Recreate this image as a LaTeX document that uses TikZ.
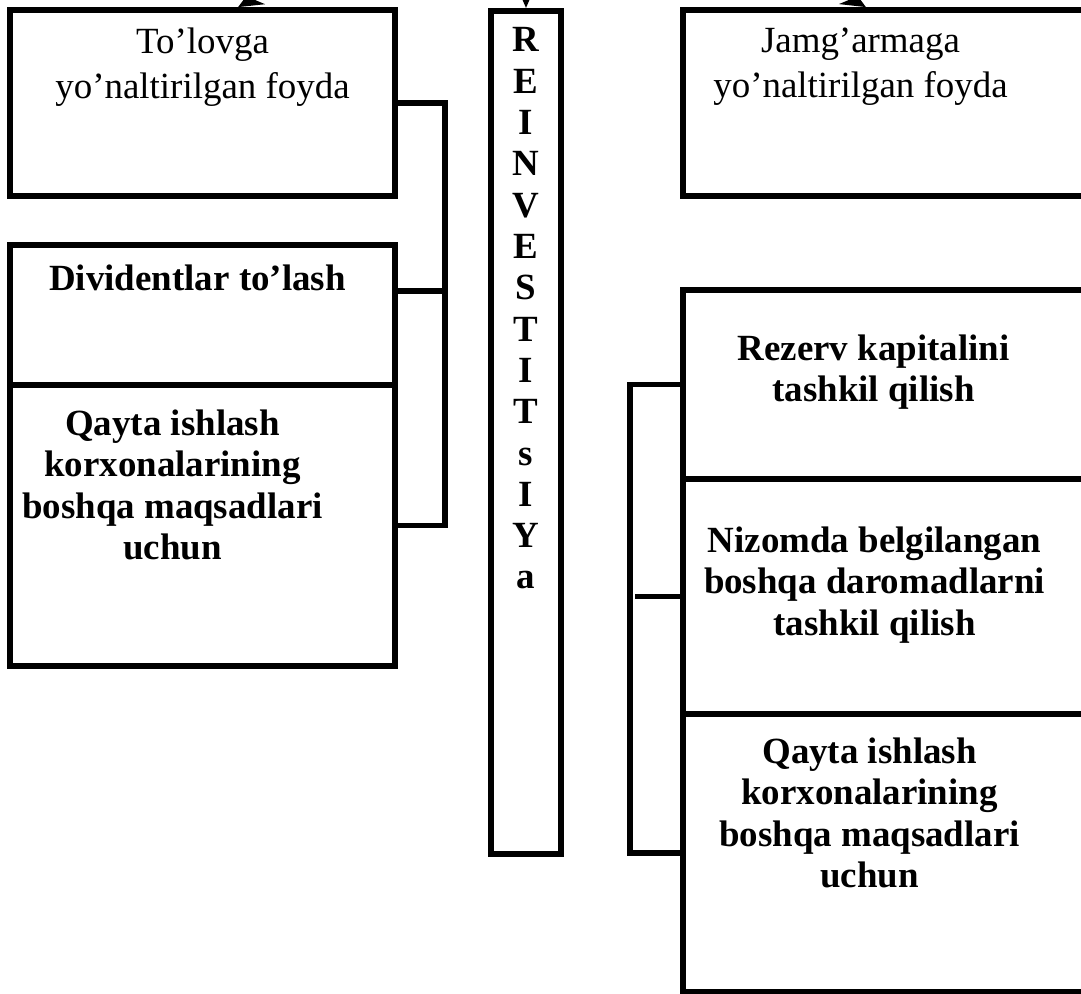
\documentclass[tikz,border=0pt]{standalone}
\usepackage{fontspec}
\setmainfont{Liberation Serif}
\usetikzlibrary{positioning, arrows.meta}

\begin{document}
\begin{tikzpicture}[x=0.01cm, y=-0.01cm,
    box/.style={draw, line width=1.6pt, rectangle, inner sep=0pt},
    conn/.style={line width=1.6pt},
    txt/.style={align=center, inner sep=0pt, font=\fontsize{10.5}{12.8}\selectfont},
    btxt/.style={align=center, inner sep=0pt, font=\fontsize{10.5}{11.8}\selectfont\bfseries},
    letters/.style={align=center, inner sep=0pt, font=\fontsize{10.5}{11.75}\selectfont\bfseries}]
  \useasboundingbox[fill=white] (0,0) rectangle (1081,994);

  \node[box, minimum width=3.85cm, minimum height=1.86cm] (tol) at (202.5,103) {};
  \node[box, minimum width=3.85cm, minimum height=1.40cm] (div) at (202.5,315) {};
  \node[box, minimum width=3.85cm, minimum height=2.81cm] (qay) at (202.5,525.5) {};
  \node[box, minimum width=0.70cm, minimum height=8.43cm] (rei) at (526,432.5) {};
  \node[box, minimum width=4.17cm, minimum height=1.86cm] (jam) at (891.5,103) {};
  \node[box, minimum width=4.17cm, minimum height=1.89cm] (rez) at (891.5,384.5) {};
  \node[box, minimum width=4.17cm, minimum height=2.35cm] (niz) at (891.5,596.5) {};
  \node[box, minimum width=4.17cm, minimum height=2.78cm] (qay2) at (891.5,853) {};

  \node[txt, below=0.2cm of tol.north] (tolT) {To’lovga\\yo’naltirilgan foyda};
  \node[txt, below=0.2cm of jam.north, xshift=-0.31cm] (jamT) {Jamg’armaga\\yo’naltirilgan foyda};
  \node[btxt, below=0.22cm of div.north, xshift=-0.05cm] (divT) {Dividentlar to’lash};
  \node[btxt, below=0.27cm of qay.north, xshift=-0.3cm] (qayT)
    {Qayta ishlash\\korxonalarining\\boshqa maqsadlari\\uchun};
  \node[letters, below=0.19cm of rei.north] (reiT)
    {R\\E\\I\\N\\V\\E\\S\\T\\I\\T\\s\\I\\Y\\a};
  \node[btxt, below=0.47cm of rez.north, xshift=-0.18cm] (rezT) {Rezerv kapitalini\\tashkil qilish};
  \node[btxt, below=0.50cm of niz.north, xshift=-0.17cm] (nizT)
    {Nizomda belgilangan\\boshqa daromadlarni\\tashkil qilish};
  \node[btxt, below=0.26cm of qay2.north, xshift=-0.22cm] (qay2T)
    {Qayta ishlash\\korxonalarining\\boshqa maqsadlari\\uchun};

  \draw[conn] (tol.east) -- ++(47,0) |- (qay.east);
  \draw[conn] ([yshift=0.24cm]div.east) -- ++(47,0);
  \draw[conn] (rez.west) -- ++(-50,0) |- (qay2.west);
  \draw[conn] (niz.west) -- ++(-45,0);

  \coordinate (srcL) at (330,-45);
  \coordinate (srcM) at (526,-60);
  \coordinate (srcR) at (775,-45);
  \draw[conn, -{Stealth[length=7pt, width=6pt]}] (srcL) -- ([xshift=0.355cm]tol.north);
  \draw[conn, -{Stealth[length=7pt, width=6pt]}] (srcM) -- (rei.north);
  \draw[conn, -{Stealth[length=7pt, width=6pt]}] (srcR) -- ([xshift=-0.255cm]jam.north);
\end{tikzpicture}
\end{document}
